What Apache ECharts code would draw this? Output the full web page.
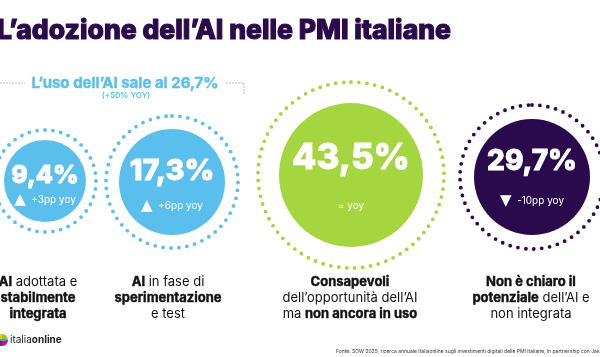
<!DOCTYPE html>
<html><head><meta charset="utf-8">
<script src="https://cdn.jsdelivr.net/npm/echarts@6/dist/echarts.min.js"></script>
<style>html,body{margin:0;padding:0;background:#fff}#c{width:600px;height:357px}</style>
</head><body><div id="c"></div>
<script>
// ---- data ----
const titleText = 'L’adozione dell’AI nelle PMI italiane';
const categories = ['Adottata e integrata', 'Sperimentazione', 'Consapevoli, non in uso', 'Potenziale non chiaro'];
const values = [9.4, 17.3, 43.5, 29.7];
const deltaPP = [3, 6, 0, -10];
const usageGrowth = '+50% YOY';
const categoryLabels = [
  '{b|AI}{n| adottata e}\n{b|stabilmente}\n{b|integrata}',
  '{b|AI}{n| in fase di}\n{b|sperimentazione}\n{n|e test}',
  '{b|Consapevoli}\n{n|dell’opportunità dell’AI}\n{n|ma }{b|non ancora in uso}',
  '{b|Non è chiaro il}\n{b|potenziale}{n| dell’AI e}\n{n|non integrata}'
];
const sourceText = 'Fonte: SOW 2025, ricerca annuale Italiaonline sugli investimenti digitali delle PMI italiane, in partnership con Jakala';

// ---- styles / layout ----
const FONT = 'Inter, "Open Sans", sans-serif';
const BLUE = '#5bbfee', GREEN = '#a5d63f', PURPLE = '#2a0a4c';
const colors = [BLUE, BLUE, GREEN, PURPLE];
const layout = [
  {c: [45, 181], r: 41, ring: 51, fs: 25, lv: 38, ld: 12},
  {c: [172, 182], r: 53, ring: 66, fs: 29, lv: 48, ld: 22},
  {c: [351, 175], r: 72, ring: 93, fs: 35, lv: 62, ld: 34},
  {c: [532, 177], r: 58, ring: 72, fs: 28, lv: 48, ld: 30}
];
const labelX = [38, 168, 350, 531];

function fmt(v) { return v.toFixed(1).replace('.', ',') + '%'; }
function deltaStr(d) {
  if (d > 0) return '{tri|▲}{d|  +' + d + 'pp yoy}';
  if (d < 0) return '{tri|▼}{d|  ' + d + 'pp yoy}';
  return '{d|= yoy}';
}

const series = [];
values.forEach((v, i) => {
  const L = layout[i];
  series.push({
    type: 'pie', center: L.c, radius: [0, L.ring], silent: true, animation: false,
    label: {show: false}, labelLine: {show: false},
    itemStyle: {color: 'rgba(0,0,0,0)', borderColor: colors[i], borderWidth: 3.8, borderType: [0, 8], borderCap: 'round'},
    data: [{value: v, name: categories[i] + ' ring'}]
  });
  series.push({
    type: 'pie', center: L.c, radius: [0, L.r], silent: true, animation: false,
    labelLine: {show: false},
    itemStyle: {color: colors[i]},
    label: {
      show: true, position: 'center',
      formatter: () => '{v|' + fmt(v) + '}\n' + deltaStr(deltaPP[i]),
      rich: {
        v: {fontFamily: FONT, fontSize: L.fs, fontWeight: 800, color: '#fff', lineHeight: L.lv,
            textBorderColor: '#fff', textBorderWidth: 0.9},
        d: {fontFamily: FONT, fontSize: 10, color: '#fff', lineHeight: L.ld},
        tri: {fontFamily: '"DejaVu Sans"', fontSize: 15, color: '#fff', lineHeight: L.ld}
      }
    },
    data: [{value: v, name: categories[i]}]
  });
});

const usage = (values[0] + values[1]).toFixed(1).replace('.', ',');

const graphic = [
  {type: 'text', x: -3, y: 31, style: {text: titleText, fill: PURPLE, stroke: PURPLE, lineWidth: 1.1, font: '800 26.5px ' + FONT, verticalAlign: 'middle'}},
  {type: 'text', x: 125, y: 83, style: {text: 'L’uso dell’AI sale al ' + usage + '%', fill: BLUE, stroke: BLUE, lineWidth: 0.4, font: '700 15px ' + FONT, align: 'center', verticalAlign: 'middle'}},
  {type: 'text', x: 126, y: 96, style: {text: '(' + usageGrowth + ')', fill: BLUE, font: '600 8px ' + FONT, align: 'center', verticalAlign: 'middle'}},
  {type: 'polyline', shape: {points: [[0, 83], [25, 83]]}, style: {stroke: '#bbb', lineWidth: 1, lineDash: [2, 1], fill: null}},
  {type: 'polyline', shape: {points: [[226, 83], [244, 83], [244, 95]]}, style: {stroke: '#bbb', lineWidth: 1, lineDash: [2, 1], fill: null}},
  {type: 'text', x: 336, y: 351, style: {text: sourceText, fill: '#333', font: '5px ' + FONT, verticalAlign: 'middle'}},
  // logo
  {type: 'sector', shape: {cx: 2, cy: 340, r: 6, startAngle: Math.PI, endAngle: Math.PI * 1.5}, style: {fill: '#f5c400'}},
  {type: 'sector', shape: {cx: 2, cy: 340, r: 6, startAngle: Math.PI * 1.5, endAngle: Math.PI * 2}, style: {fill: '#8cc63f'}},
  {type: 'sector', shape: {cx: 2, cy: 340, r: 6, startAngle: 0, endAngle: Math.PI * 0.5}, style: {fill: '#e6007e'}},
  {type: 'sector', shape: {cx: 2, cy: 340, r: 6, startAngle: Math.PI * 0.5, endAngle: Math.PI}, style: {fill: '#5b2a86'}},
  {type: 'rect', shape: {x: -4, y: 339, width: 10, height: 2}, style: {fill: '#29abe2'}},
  {type: 'text', x: 10, y: 340, style: {text: '{n|italia}{b|online}', verticalAlign: 'middle',
    rich: {n: {font: '400 10px ' + FONT, fill: '#222'}, b: {font: '700 10px ' + FONT, fill: '#222'}}}}
];
categoryLabels.forEach((t, i) => {
  graphic.push({type: 'text', x: labelX[i], y: 274, style: {
    text: t, align: 'center', verticalAlign: 'top',
    rich: {
      n: {fontFamily: FONT, fontSize: 13, fontWeight: 400, fill: '#111', lineHeight: 16},
      b: {fontFamily: FONT, fontSize: 13, fontWeight: 700, fill: '#111', lineHeight: 16, stroke: '#111', lineWidth: 0.4}
    }
  }});
});

const chart = echarts.init(document.getElementById('c'), null, {renderer: 'canvas'});
chart.setOption({
  animation: false,
  backgroundColor: '#fff',
  series: series,
  graphic: graphic
});
</script></body></html>
